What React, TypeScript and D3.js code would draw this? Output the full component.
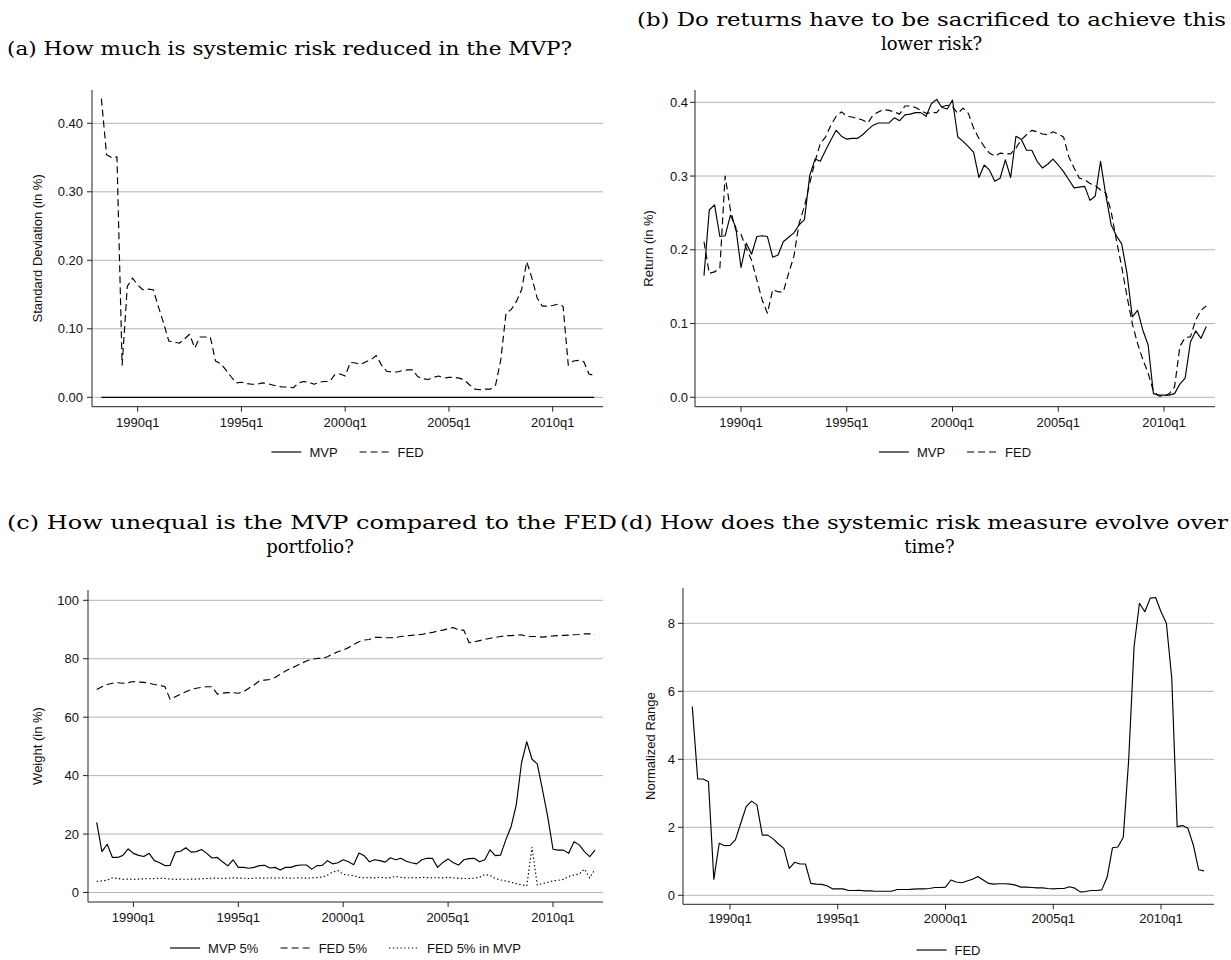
import React from 'react';
import * as d3 from 'd3';

// ---------------- DATA ----------------
const START_QUARTER = '1988q2';
const xTickLabels = ['1990q1', '1995q1', '2000q1', '2005q1', '2010q1'];

// (a) standard deviation (in %)
const riskMVP = [
  0, 0, 0, 0, 0, 0, 0, 0,
  0, 0, 0, 0, 0, 0, 0, 0,
  0, 0, 0, 0, 0, 0, 0, 0,
  0, 0, 0, 0, 0, 0, 0, 0,
  0, 0, 0, 0, 0, 0, 0, 0,
  0, 0, 0, 0, 0, 0, 0, 0,
  0, 0, 0, 0, 0, 0, 0, 0,
  0, 0, 0, 0, 0, 0, 0, 0,
  0, 0, 0, 0, 0, 0, 0, 0,
  0, 0, 0, 0, 0, 0, 0, 0,
  0, 0, 0, 0, 0, 0, 0, 0,
  0, 0, 0, 0, 0, 0, 0, 0,
];
const riskFED = [
  0.436, 0.354, 0.350, 0.351, 0.047, 0.162, 0.174, 0.164,
  0.157, 0.158, 0.157, 0.132, 0.108, 0.082, 0.081, 0.079,
  0.085, 0.092, 0.072, 0.088, 0.088, 0.088, 0.053, 0.049,
  0.040, 0.030, 0.021, 0.022, 0.020, 0.019, 0.019, 0.021,
  0.020, 0.018, 0.016, 0.015, 0.015, 0.014, 0.021, 0.023,
  0.022, 0.019, 0.022, 0.023, 0.023, 0.033, 0.034, 0.031,
  0.051, 0.050, 0.048, 0.052, 0.055, 0.061, 0.047, 0.038,
  0.037, 0.037, 0.039, 0.040, 0.040, 0.030, 0.027, 0.026,
  0.029, 0.031, 0.028, 0.029, 0.029, 0.028, 0.025, 0.018,
  0.012, 0.011, 0.012, 0.012, 0.018, 0.055, 0.123, 0.128,
  0.140, 0.157, 0.198, 0.174, 0.145, 0.133, 0.133, 0.134,
  0.136, 0.133, 0.047, 0.053, 0.054, 0.052, 0.034, 0.032,
];

// (b) return (in %)
const returnMVP = [
  0.165, 0.254, 0.261, 0.218, 0.219, 0.247, 0.231, 0.176,
  0.209, 0.194, 0.218, 0.219, 0.218, 0.190, 0.193, 0.211,
  0.217, 0.223, 0.234, 0.241, 0.301, 0.323, 0.320, 0.335,
  0.349, 0.362, 0.354, 0.350, 0.351, 0.351, 0.356, 0.363,
  0.369, 0.372, 0.372, 0.372, 0.379, 0.375, 0.383, 0.384,
  0.386, 0.386, 0.381, 0.398, 0.404, 0.393, 0.391, 0.403,
  0.353, 0.347, 0.340, 0.332, 0.298, 0.315, 0.308, 0.293,
  0.297, 0.322, 0.298, 0.354, 0.350, 0.335, 0.335, 0.320,
  0.311, 0.316, 0.323, 0.315, 0.306, 0.295, 0.284, 0.285,
  0.286, 0.267, 0.273, 0.320, 0.274, 0.234, 0.219, 0.208,
  0.168, 0.109, 0.118, 0.091, 0.071, 0.005, 0.003, 0.003,
  0.003, 0.005, 0.018, 0.026, 0.075, 0.090, 0.080, 0.096,
];
const returnFED = [
  0.211, 0.168, 0.170, 0.175, 0.300, 0.254, 0.227, 0.221,
  0.202, 0.186, 0.159, 0.132, 0.114, 0.146, 0.143, 0.143,
  0.168, 0.191, 0.236, 0.259, 0.290, 0.320, 0.344, 0.353,
  0.369, 0.381, 0.387, 0.381, 0.380, 0.378, 0.376, 0.372,
  0.383, 0.387, 0.390, 0.389, 0.387, 0.384, 0.395, 0.395,
  0.393, 0.389, 0.385, 0.386, 0.386, 0.394, 0.396, 0.394,
  0.385, 0.392, 0.385, 0.365, 0.351, 0.340, 0.331, 0.327,
  0.331, 0.330, 0.330, 0.338, 0.349, 0.356, 0.362, 0.360,
  0.357, 0.356, 0.360, 0.357, 0.353, 0.326, 0.311, 0.297,
  0.295, 0.290, 0.287, 0.281, 0.277, 0.252, 0.213, 0.177,
  0.137, 0.100, 0.073, 0.051, 0.033, 0.008, 0.002, 0.001,
  0.005, 0.014, 0.069, 0.081, 0.082, 0.105, 0.118, 0.124,
];

// (c) weight (in %)
const weightMVP5 = [
  24.0, 14.0, 16.5, 12.0, 12.0, 12.7, 14.9, 13.4,
  12.7, 12.3, 13.4, 10.9, 10.2, 9.2, 9.3, 13.8,
  14.1, 15.3, 13.8, 14.0, 14.7, 13.4, 11.8, 12.0,
  10.5, 9.1, 11.2, 8.6, 8.6, 8.3, 8.6, 9.2,
  9.3, 8.4, 8.6, 7.7, 8.6, 8.6, 9.2, 9.4,
  9.4, 8.0, 9.2, 9.3, 10.9, 9.8, 10.2, 11.2,
  10.5, 9.5, 13.5, 12.6, 10.5, 11.2, 10.9, 10.4,
  11.9, 11.2, 11.7, 10.7, 10.2, 9.8, 11.2, 11.7,
  11.7, 8.6, 10.3, 11.5, 10.2, 9.4, 11.2, 11.6,
  11.7, 10.5, 11.2, 14.6, 12.6, 12.8, 18.0, 22.5,
  30.0, 44.4, 51.6, 45.6, 44.0, 35.1, 25.9, 14.8,
  14.5, 14.5, 13.4, 17.4, 16.3, 14.0, 12.3, 14.5,
];
const weightFED5 = [
  69.5, 70.4, 71.2, 71.6, 71.8, 71.6, 71.8, 72.2,
  72.0, 71.9, 71.6, 71.2, 70.9, 70.5, 66.1, 67.0,
  67.9, 68.7, 69.5, 69.9, 70.2, 70.4, 70.4, 67.9,
  68.2, 68.4, 68.4, 68.2, 68.7, 69.9, 71.0, 72.4,
  72.7, 72.9, 73.6, 74.7, 75.8, 76.7, 77.5, 78.4,
  79.2, 79.8, 80.1, 80.1, 80.7, 81.6, 82.4, 83.0,
  83.8, 84.9, 85.8, 86.4, 86.6, 87.3, 87.3, 87.2,
  87.2, 87.3, 87.6, 87.8, 88.0, 88.2, 88.3, 88.7,
  89.0, 89.5, 89.8, 90.2, 90.7, 89.8, 89.8, 85.5,
  85.8, 86.2, 86.6, 87.0, 87.3, 87.6, 87.9, 87.9,
  88.1, 88.2, 87.6, 87.6, 87.6, 87.4, 87.6, 87.8,
  87.9, 88.0, 88.1, 88.2, 88.3, 88.5, 88.5, 88.3,
];
const weightFED5inMVP = [
  3.8, 4.0, 4.2, 5.0, 4.8, 4.5, 4.6, 4.5,
  4.6, 4.7, 4.7, 4.8, 4.9, 4.8, 4.6, 4.5,
  4.6, 4.5, 4.6, 4.6, 4.7, 4.8, 4.9, 4.9,
  4.8, 4.9, 5.0, 4.9, 4.9, 4.8, 4.9, 5.0,
  4.9, 5.0, 4.9, 5.0, 5.0, 4.9, 5.0, 5.0,
  4.9, 5.0, 5.1, 5.3, 6.0, 7.0, 7.5, 6.2,
  6.0, 5.8, 5.2, 5.0, 5.1, 5.0, 5.2, 5.0,
  5.1, 5.5, 5.2, 5.0, 5.1, 5.0, 5.2, 5.1,
  5.0, 5.1, 5.0, 5.2, 5.0, 4.9, 4.8, 4.8,
  4.9, 5.2, 6.2, 5.8, 4.8, 4.3, 3.9, 3.5,
  3.0, 2.6, 2.3, 15.5, 2.6, 3.0, 3.5, 4.0,
  4.2, 4.5, 5.5, 6.0, 6.3, 8.0, 5.0, 8.0,
];

// (d) normalized range
const rangeFED = [
  5.55, 3.42, 3.42, 3.34, 0.47, 1.53, 1.46, 1.47,
  1.63, 2.12, 2.61, 2.77, 2.66, 1.77, 1.77, 1.66,
  1.51, 1.38, 0.79, 0.97, 0.92, 0.92, 0.35, 0.33,
  0.32, 0.28, 0.19, 0.19, 0.19, 0.14, 0.14, 0.15,
  0.13, 0.13, 0.12, 0.12, 0.12, 0.12, 0.17, 0.17,
  0.17, 0.18, 0.19, 0.19, 0.20, 0.23, 0.23, 0.24,
  0.45, 0.39, 0.37, 0.42, 0.47, 0.55, 0.45, 0.35,
  0.33, 0.34, 0.34, 0.33, 0.30, 0.24, 0.24, 0.23,
  0.22, 0.22, 0.20, 0.19, 0.20, 0.20, 0.25, 0.21,
  0.10, 0.11, 0.14, 0.14, 0.16, 0.53, 1.40, 1.42,
  1.71, 3.98, 7.31, 8.59, 8.34, 8.74, 8.76, 8.34,
  8.00, 6.38, 2.02, 2.05, 1.97, 1.48, 0.75, 0.72,
];

// ---------------- HELPERS ----------------
const quarterIndex = (label: string) => {
  const [y, q] = label.split('q').map(Number);
  return (y - 1990) * 4 + (q - 1);
};
const START = quarterIndex(START_QUARTER);
const xTickIdx = xTickLabels.map(quarterIndex);

const SANS = '"Liberation Sans", Arial, Helvetica, sans-serif';
const SERIF = '"DejaVu Serif", serif';
const AX_FS = 13;
const TITLE_FS = 18;

let ctx: CanvasRenderingContext2D | null = null;
const measure = (t: string, fs: number) => {
  if (!ctx) ctx = document.createElement('canvas').getContext('2d');
  if (!ctx) return t.length * fs * 0.55;
  ctx.font = `${fs}px "Liberation Sans"`;
  return ctx.measureText(t).width;
};

const DASH = '7,4';
const DOT = '1.4,2.4';

type Series = { name: string; values: number[]; dash?: string };
type TitleLine = { text: string; x: number; y: number; anchor: 'start' | 'middle'; w?: number };
type PanelCfg = {
  titles: TitleLine[];
  left: number; right: number; top: number; axisY: number;
  x0: number; x80: number;
  yRef: [number, number, number, number];
  yTicks: number[]; yFmt: (v: number) => string;
  labelRight: number; yTitle: string; yTitleX: number;
  xLabelY: number; legendY: number;
  series: Series[];
};

function Panel({ cfg }: { cfg: PanelCfg }) {
  const xs = d3.scaleLinear().domain([0, 80]).range([cfg.x0, cfg.x80]);
  const ys = d3.scaleLinear().domain([cfg.yRef[0], cfg.yRef[2]]).range([cfg.yRef[1], cfg.yRef[3]]);
  const line = d3.line<number>().x((_, k) => xs(k + START)).y((v) => ys(v));

  // legend layout
  const sampleW = 30, gapT = 8, gapI = 22;
  const widths = cfg.series.map((s) => sampleW + gapT + measure(s.name, AX_FS));
  const total = widths.reduce((a, b) => a + b, 0) + gapI * (cfg.series.length - 1);
  const cx = (cfg.left + cfg.right) / 2;
  let lx = cx - total / 2;
  const legendItems = cfg.series.map((s, k) => {
    const x = lx;
    lx += widths[k] + gapI;
    return { s, x };
  });

  const yMid = (cfg.top + cfg.axisY) / 2;

  return (
    <g>
      {cfg.titles.map((t, k) => (
        <text key={k} x={t.x} y={t.y} textAnchor={t.anchor} fontFamily={SERIF} fontSize={TITLE_FS}
          fill="#000" {...(t.w ? { textLength: t.w, lengthAdjust: 'spacingAndGlyphs' } : {})}>
          {t.text}
        </text>
      ))}
      {/* gridlines */}
      {cfg.yTicks.map((v) => (
        <line key={'g' + v} x1={cfg.left} x2={cfg.right} y1={ys(v)} y2={ys(v)} stroke="#b4b4b4" strokeWidth={1} />
      ))}
      {/* y axis */}
      <line x1={cfg.left} x2={cfg.left} y1={cfg.top} y2={cfg.axisY} stroke="#222" strokeWidth={1} />
      {cfg.yTicks.map((v) => (
        <g key={'yt' + v}>
          <line x1={cfg.left - 5} x2={cfg.left} y1={ys(v)} y2={ys(v)} stroke="#222" strokeWidth={1} />
          <text x={cfg.labelRight} y={ys(v) + 4.5} textAnchor="end" fontFamily={SANS} fontSize={AX_FS} fill="#111">
            {cfg.yFmt(v)}
          </text>
        </g>
      ))}
      <text transform={`translate(${cfg.yTitleX},${yMid}) rotate(-90)`} textAnchor="middle" fontFamily={SANS}
        fontSize={AX_FS} fill="#111" dy="0.35em">
        {cfg.yTitle}
      </text>
      {/* x axis */}
      <line x1={cfg.left} x2={cfg.right} y1={cfg.axisY} y2={cfg.axisY} stroke="#222" strokeWidth={1} />
      {xTickIdx.map((q, k) => (
        <g key={'xt' + q}>
          <line x1={xs(q)} x2={xs(q)} y1={cfg.axisY} y2={cfg.axisY + 5} stroke="#222" strokeWidth={1} />
          <text x={xs(q)} y={cfg.xLabelY + 4.5} textAnchor="middle" fontFamily={SANS} fontSize={AX_FS} fill="#111">
            {xTickLabels[k]}
          </text>
        </g>
      ))}
      {/* series */}
      {cfg.series.map((s) => (
        <path key={s.name} d={line(s.values) || ''} fill="none" stroke="#000" strokeWidth={1.15}
          strokeDasharray={s.dash} strokeLinejoin="round" />
      ))}
      {/* legend */}
      {legendItems.map(({ s, x }) => (
        <g key={'l' + s.name}>
          <line x1={x} x2={x + sampleW} y1={cfg.legendY} y2={cfg.legendY} stroke="#000" strokeWidth={1.15}
            strokeDasharray={s.dash} />
          <text x={x + sampleW + gapT} y={cfg.legendY + 4.5} fontFamily={SANS} fontSize={AX_FS} fill="#111">
            {s.name}
          </text>
        </g>
      ))}
    </g>
  );
}

const fmt2 = d3.format('.2f');
const fmt1 = d3.format('.1f');
const fmt0 = d3.format('d');

const panels: PanelCfg[] = [
  {
    titles: [{ text: '(a) How much is systemic risk reduced in the MVP?', x: 7, y: 55, anchor: 'start', w: 565 }],
    left: 92, right: 603, top: 90, axisY: 406.7, x0: 137.7, x80: 552.7,
    yRef: [0, 397.3, 0.4, 123.3], yTicks: [0, 0.1, 0.2, 0.3, 0.4], yFmt: fmt2,
    labelRight: 83, yTitle: 'Standard Deviation (in %)', yTitleX: 37, xLabelY: 422, legendY: 452,
    series: [
      { name: 'MVP', values: riskMVP },
      { name: 'FED', values: riskFED, dash: DASH },
    ],
  },
  {
    titles: [
      { text: '(b) Do returns have to be sacrificed to achieve this', x: 931.5, y: 26, anchor: 'middle', w: 589 },
      { text: 'lower risk?', x: 931.5, y: 50, anchor: 'middle' },
    ],
    left: 695, right: 1215, top: 90, axisY: 406.7, x0: 741, x80: 1164,
    yRef: [0, 397.3, 0.4, 102.3], yTicks: [0, 0.1, 0.2, 0.3, 0.4], yFmt: fmt1,
    labelRight: 688, yTitle: 'Return (in %)', yTitleX: 648, xLabelY: 422, legendY: 452,
    series: [
      { name: 'MVP', values: returnMVP },
      { name: 'FED', values: returnFED, dash: DASH },
    ],
  },
  {
    titles: [
      { text: '(c) How unequal is the MVP compared to the FED', x: 312, y: 529, anchor: 'middle', w: 610 },
      { text: 'portfolio?', x: 310, y: 553, anchor: 'middle' },
    ],
    left: 88, right: 603, top: 590, axisY: 902, x0: 133.4, x80: 553,
    yRef: [0, 892.5, 100, 600.3], yTicks: [0, 20, 40, 60, 80, 100], yFmt: fmt0,
    labelRight: 79, yTitle: 'Weight (in %)', yTitleX: 37, xLabelY: 917, legendY: 948,
    series: [
      { name: 'MVP 5%', values: weightMVP5 },
      { name: 'FED 5%', values: weightFED5, dash: DASH },
      { name: 'FED 5% in MVP', values: weightFED5inMVP, dash: DOT },
    ],
  },
  {
    titles: [
      { text: '(d) How does the systemic risk measure evolve over', x: 924, y: 529, anchor: 'middle', w: 608 },
      { text: 'time?', x: 929.5, y: 553, anchor: 'middle' },
    ],
    left: 683, right: 1214, top: 588, axisY: 904.3, x0: 730, x80: 1161,
    yRef: [0, 895.3, 8, 623.3], yTicks: [0, 2, 4, 6, 8], yFmt: fmt0,
    labelRight: 675, yTitle: 'Normalized Range', yTitleX: 650, xLabelY: 918, legendY: 950,
    series: [{ name: 'FED', values: rangeFED }],
  },
];

export default function App() {
  return (
    <svg width={1231} height={960} viewBox="0 0 1231 960"
      style={{ position: 'absolute', left: 0, top: 0, background: '#fff' }}>
      <rect x={0} y={0} width={1231} height={960} fill="#fff" />
      {panels.map((p, k) => (
        <Panel key={k} cfg={p} />
      ))}
    </svg>
  );
}
